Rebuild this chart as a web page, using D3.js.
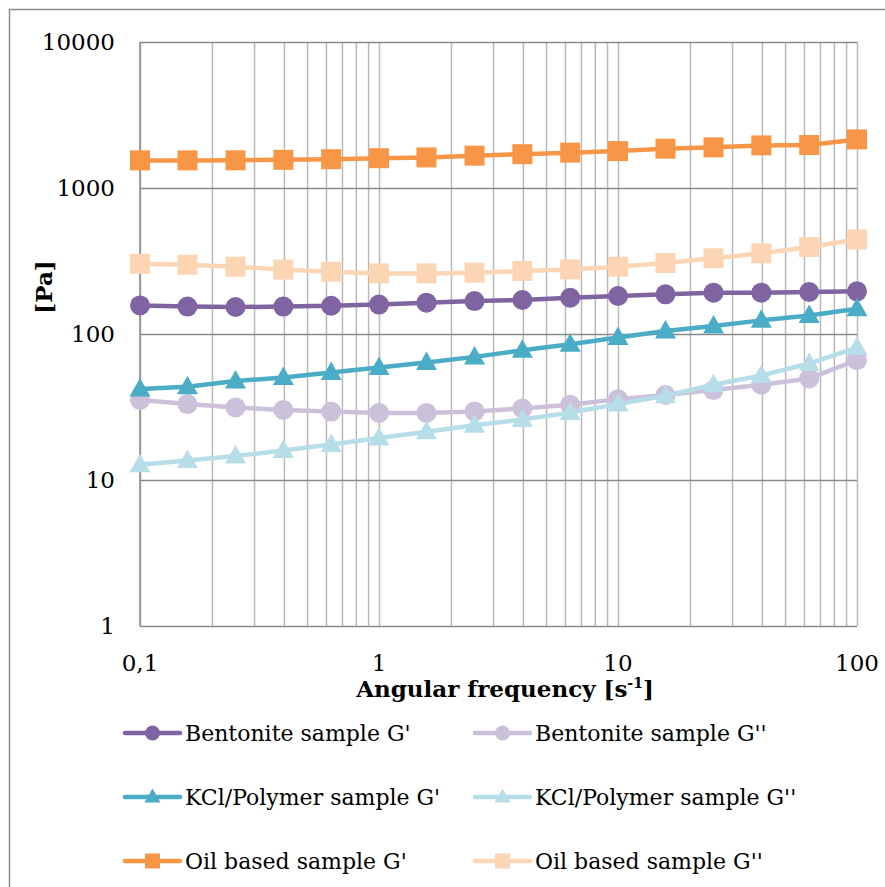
<!DOCTYPE html>
<html>
<head>
<meta charset="utf-8">
<script src="https://cdn.jsdelivr.net/npm/d3@7"></script>
<style>
  html, body { margin: 0; padding: 0; background: #fff; }
  svg { display: block; }
  text { font-family: "DejaVu Serif", "Liberation Serif", serif; fill: #000; }
</style>
</head>
<body>
<svg id="chart" width="885" height="887"></svg>
<script>
// Angular frequency sweep [1/s]
const frequency = [0.1, 0.158, 0.251, 0.398, 0.631, 1, 1.58, 2.51, 3.98, 6.31, 10, 15.8, 25.1, 39.8, 63.1, 100];

// Moduli [Pa] per sample
const bentoniteG1 = [157, 154, 153, 154, 156, 159, 164, 168, 171, 177, 182, 187, 192, 192, 194, 196];
const bentoniteG2 = [35.3, 33.1, 31.4, 30.2, 29.4, 28.8, 28.8, 29.5, 30.9, 32.8, 35.8, 38.2, 41.3, 44.9, 49.6, 66.2];
const kclG1 = [42, 43.5, 47.6, 50.4, 54.5, 58.9, 63.8, 69.7, 77.4, 85, 94.5, 105, 113.5, 124, 134, 149];
const kclG2 = [12.7, 13.6, 14.6, 15.9, 17.5, 19.4, 21.4, 23.7, 26, 29, 33.1, 37.8, 44.9, 52, 62.8, 80.7];
const oilG1 = [1546, 1546, 1548, 1560, 1575, 1600, 1620, 1665, 1705, 1746, 1790, 1859, 1898, 1958, 1969, 2152];
const oilG2 = [303, 298, 289, 276, 267, 260, 260, 263, 270, 277, 289, 306, 330, 357, 394, 444];

const seriesNames = ["Bentonite sample G'", "Bentonite sample G''", "KCl/Polymer sample G'",
                     "KCl/Polymer sample G''", "Oil based sample G'", "Oil based sample G''"];
const seriesValues = [bentoniteG1, bentoniteG2, kclG1, kclG2, oilG1, oilG2];
const seriesColors = ["#8064A2", "#CCC1DA", "#4BACC6", "#B7DEE8", "#F79646", "#FCD5B5"];
const seriesMarkers = ["circle", "circle", "triangle", "triangle", "square", "square"];

const xTickValues = [0.1, 1, 10, 100];
const xTickLabels = ["0,1", "1", "10", "100"];
const yTickValues = [1, 10, 100, 1000, 10000];
const yTickLabels = ["1", "10", "100", "1000", "10000"];

const svg = d3.select("#chart");

// outer chart frame (continues past the right and bottom edges)
svg.append("rect")
  .attr("x", 9.5).attr("y", 9.5)
  .attr("width", 960).attr("height", 960)
  .attr("fill", "#fff").attr("stroke", "#8c8c8c").attr("stroke-width", 1.5);

const plot = { left: 140, right: 857, top: 42, bottom: 626 };

const x = d3.scaleLog().domain([0.1, 100]).range([plot.left, plot.right]);
const y = d3.scaleLog().domain([1, 10000]).range([plot.bottom, plot.top]);

// vertical gridlines: every 1..9 multiple of each decade
const xGrid = [];
for (let e = -1; e <= 1; e++) for (let m = 1; m <= 9; m++) xGrid.push(m * Math.pow(10, e));
xGrid.push(100);

const gx = svg.append("g")
  .attr("transform", `translate(0,${plot.bottom})`)
  .call(d3.axisBottom(x).tickValues(xGrid).tickSize(-(plot.bottom - plot.top)).tickFormat(""));
gx.select(".domain").remove();
gx.selectAll(".tick line").attr("stroke", "#b9b9b9").attr("stroke-width", 1.5);

// horizontal gridlines at each decade
const gy = svg.append("g")
  .attr("transform", `translate(${plot.left},0)`)
  .call(d3.axisLeft(y).tickValues(yTickValues).tickSize(-(plot.right - plot.left)).tickFormat(""));
gy.select(".domain").remove();
gy.selectAll(".tick line").attr("stroke", "#8a8a8a").attr("stroke-width", 1.5);

// left axis line
svg.append("line")
  .attr("x1", plot.left).attr("x2", plot.left)
  .attr("y1", plot.top).attr("y2", plot.bottom)
  .attr("stroke", "#8a8a8a").attr("stroke-width", 1.5);

// tick labels
svg.append("g").selectAll("text")
  .data(yTickValues)
  .join("text")
  .attr("x", 115)
  .attr("y", d => y(d))
  .attr("dy", "0.36em")
  .attr("text-anchor", "end")
  .attr("font-size", 23)
  .text((d, i) => yTickLabels[i]);

svg.append("g").selectAll("text")
  .data(xTickValues)
  .join("text")
  .attr("x", d => x(d))
  .attr("y", 671)
  .attr("text-anchor", "middle")
  .attr("font-size", 23)
  .text((d, i) => xTickLabels[i]);

// axis titles
const xTitle = svg.append("text")
  .attr("x", 505).attr("y", 697)
  .attr("text-anchor", "middle")
  .attr("font-size", 23).attr("font-weight", "bold");
xTitle.append("tspan").text("Angular frequency [s");
xTitle.append("tspan").attr("font-size", 14).attr("dy", -9).text("-1");
xTitle.append("tspan").attr("dy", 9).text("]");

svg.append("text")
  .attr("transform", "translate(52,287) rotate(-90)")
  .attr("text-anchor", "middle")
  .attr("font-size", 23).attr("font-weight", "bold")
  .text("[Pa]");

// marker shapes
const markerPath = {
  circle: d3.symbol(d3.symbolCircle, Math.PI * 10 * 10)(),
  square: d3.symbol(d3.symbolSquare, 20 * 20)(),
  triangle: "M0,-11L10.5,7.5L-10.5,7.5Z"
};
const legendMarkerPath = {
  circle: d3.symbol(d3.symbolCircle, Math.PI * 7.5 * 7.5)(),
  square: d3.symbol(d3.symbolSquare, 15 * 15)(),
  triangle: "M0,-8.5L8,5.5L-8,5.5Z"
};

const line = d3.line()
  .x((d, i) => x(frequency[i]))
  .y(d => y(d));

// series drawn in order so later series sit on top
seriesValues.forEach((vals, s) => {
  const g = svg.append("g");
  g.append("path")
    .attr("d", line(vals))
    .attr("fill", "none")
    .attr("stroke", seriesColors[s])
    .attr("stroke-width", 4.5)
    .attr("stroke-linejoin", "round")
    .attr("stroke-linecap", "round");
  g.selectAll("path.mk")
    .data(vals)
    .join("path")
    .attr("class", "mk")
    .attr("transform", (d, i) => `translate(${x(frequency[i])},${y(d)})`)
    .attr("d", markerPath[seriesMarkers[s]])
    .attr("fill", seriesColors[s]);
});

// legend: two columns, three rows
const legendCols = [{ lx: 125, tx: 185 }, { lx: 475, tx: 535 }];
const legendRows = [733, 797, 861];
seriesNames.forEach((name, s) => {
  const col = legendCols[s % 2];
  const row = legendRows[Math.floor(s / 2)];
  const g = svg.append("g");
  g.append("line")
    .attr("x1", col.lx).attr("x2", col.lx + 55)
    .attr("y1", row).attr("y2", row)
    .attr("stroke", seriesColors[s]).attr("stroke-width", 4.5)
    .attr("stroke-linecap", "round");
  g.append("path")
    .attr("transform", `translate(${col.lx + 27.5},${row})`)
    .attr("d", legendMarkerPath[seriesMarkers[s]])
    .attr("fill", seriesColors[s]);
  g.append("text")
    .attr("x", col.tx).attr("y", row)
    .attr("dy", "0.36em")
    .attr("font-size", 22)
    .text(name);
});
</script>
</body>
</html>
